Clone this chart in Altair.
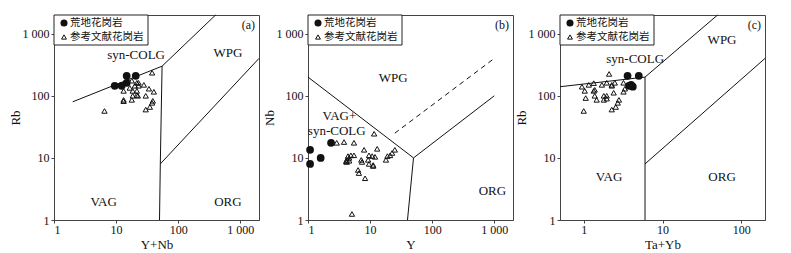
import altair as alt
import pandas as pd

SERIF = "Liberation Serif, Noto Sans CJK SC"
LEG_A = "荒地花岗岩"
LEG_B = "参考文献花岗岩"

# ---------------- Panel (a): Rb vs Y+Nb ----------------
a_circ_x = [9.5, 12.3, 14.8, 20.7, 14.8]
a_circ_y = [145, 145, 210, 210, 162]
a_tri_x = [38, 6.5, 13.2, 13.2, 13.2, 17.9, 18.5, 21.6, 23, 23, 17.9, 16.6, 18.5, 21.6, 22.4,
           28, 33.8, 40.6, 30, 30, 35, 38, 39, 21.6, 20]
a_tri_y = [235, 57, 120, 86, 82, 86, 100, 103, 145, 162, 175, 134, 120, 120, 100,
           150, 130, 116, 100, 60, 66, 77, 83, 162, 145]
a_seg_id = [1, 1, 1, 2, 2, 2, 3, 3]
a_seg_x = [2, 55, 400, 55, 51.5, 50, 51.5, 2000]
a_seg_y = [80, 300, 2000, 300, 8, 1, 8, 400]
a_lab_t = ["syn-COLG", "WPG", "VAG", "ORG"]
a_lab_x = [21, 630, 6.3, 630]
a_lab_y = [460, 490, 1.95, 1.95]

# ---------------- Panel (b): Nb vs Y ----------------
b_circ_x = [1.08, 1.08, 1.6, 2.35]
b_circ_y = [13.5, 8, 10, 17.5]
b_tri_x = [2.9, 3.8, 5.5, 11.6, 13, 8, 25, 22.6, 21, 19, 18, 9.6, 10.8, 12, 9.3, 11.2, 11.2,
           9.6, 7.2, 7.4, 6.4, 6.6, 8.3, 5.1, 4.4, 4.6, 4.2, 4.2, 4.9, 5.5, 4.6, 4.1]
b_tri_y = [17.5, 18, 17.5, 24.5, 14, 13.5, 13.5, 12, 11, 10.7, 9.3, 11, 10.7, 10.4, 9.3, 7.7, 7.4,
           8, 9.3, 8.6, 6.4, 5.7, 4.7, 1.25, 10.7, 10, 9.3, 8.6, 11, 11, 9, 8.8]
b_seg_id = [1, 1, 1, 2, 2]
b_seg_x = [1, 50, 1000, 50, 40]
b_seg_y = [200, 10, 100, 10, 1]
b_dash_x = [25, 1000]
b_dash_y = [25, 400]
b_lab_t = ["WPG", "VAG+", "syn-COLG", "ORG"]
b_lab_x = [23.5, 3.2, 2.9, 930]
b_lab_y = [195, 47, 27, 2.9]

# ---------------- Panel (c): Rb vs Ta+Yb ----------------
c_circ_x = [3.6, 5.0, 3.75, 4.2, 4.0]
c_circ_y = [210, 210, 145, 140, 150]
c_tri_x = [2.1, 1.0, 0.95, 1.16, 1.34, 1.38, 1.03, 1.06, 1.46, 1.7, 1.96, 2.27, 2.48, 2.4, 2.27,
           1.8, 1.96, 1.96, 1.8, 2.27, 2.55, 2.7, 2.8, 3.2, 3.33, 3.2, 1.38, 1.34]
c_tri_y = [225, 57, 140, 150, 160, 125, 120, 92, 86, 150, 162, 150, 162, 112, 145,
           100, 100, 90, 86, 60, 66, 77, 86, 162, 130, 116, 100, 120]
c_seg_id = [1, 1, 1, 2, 2, 3, 3]
c_seg_x = [0.5, 6, 50, 6, 6, 6, 200]
c_seg_y = [140, 200, 2000, 200, 1, 8, 400]
c_lab_t = ["syn-COLG", "WPG", "VAG", "ORG"]
c_lab_x = [4.5, 57, 2.1, 57]
c_lab_y = [390, 800, 4.9, 4.9]

W, H = 205, 205


def panel(tag, xdom, xvals, xtitle, ytitle, cx, cy, tx, ty, sid, sx, sy, lt, lx, ly,
          dx=None, dy=None):
    xs = alt.Scale(type="log", domain=xdom, nice=False)
    ys = alt.Scale(type="log", domain=[1, 2000], nice=False)
    xax = alt.Axis(values=xvals, title=xtitle, labelPadding=1, titlePadding=3,
                   labelExpr="datum.value == 1000 ? '1 000' : datum.label")
    yax = alt.Axis(values=[1, 10, 100, 1000], title=ytitle, labelPadding=2, titlePadding=0,
                   labelExpr="datum.value == 1000 ? '1 000' : datum.label")

    seg = pd.DataFrame({"id": sid, "x": sx, "y": sy, "o": list(range(len(sx)))})
    lines = alt.Chart(seg).mark_line(color="#111", strokeWidth=1).encode(
        x=alt.X("x:Q", scale=xs, axis=xax),
        y=alt.Y("y:Q", scale=ys, axis=yax),
        detail="id:N", order="o:Q")
    layers = [lines]
    if dx is not None:
        dd = pd.DataFrame({"x": dx, "y": dy})
        layers.append(alt.Chart(dd).mark_line(color="#111", strokeWidth=1,
                                              strokeDash=[5, 4]).encode(
            x=alt.X("x:Q", scale=xs), y=alt.Y("y:Q", scale=ys)))
    tri = pd.DataFrame({"x": tx, "y": ty})
    layers.append(alt.Chart(tri).mark_point(shape="triangle-up", filled=False, color="#111",
                                            size=28, strokeWidth=1, opacity=1).encode(
        x=alt.X("x:Q", scale=xs), y=alt.Y("y:Q", scale=ys)))
    circ = pd.DataFrame({"x": cx, "y": cy})
    layers.append(alt.Chart(circ).mark_circle(color="#111", size=60, opacity=1).encode(
        x=alt.X("x:Q", scale=xs), y=alt.Y("y:Q", scale=ys)))
    lab = pd.DataFrame({"t": lt, "x": lx, "y": ly})
    layers.append(alt.Chart(lab).mark_text(font=SERIF, fontSize=13, color="#111").encode(
        x=alt.X("x:Q", scale=xs), y=alt.Y("y:Q", scale=ys), text="t:N"))

    one = pd.DataFrame({"k": [0]})
    layers.append(alt.Chart(one).mark_text(font=SERIF, fontSize=12, color="#111",
                                           align="right", text=tag).encode(
        x=alt.value(W - 4), y=alt.value(10)))
    layers.append(alt.Chart(one).mark_rect(fill="white", stroke="#222", strokeWidth=1).encode(
        x=alt.value(0), x2=alt.value(94), y=alt.value(0), y2=alt.value(30)))
    layers.append(alt.Chart(one).mark_circle(color="#111", size=50, opacity=1).encode(
        x=alt.value(10), y=alt.value(8)))
    layers.append(alt.Chart(one).mark_point(shape="triangle-up", filled=False, color="#111",
                                            size=24, strokeWidth=1, opacity=1).encode(
        x=alt.value(10), y=alt.value(22)))
    layers.append(alt.Chart(one).mark_text(font=SERIF, fontSize=10.5, color="#111",
                                           align="left", baseline="middle", text=LEG_A).encode(
        x=alt.value(16), y=alt.value(8)))
    layers.append(alt.Chart(one).mark_text(font=SERIF, fontSize=10.5, color="#111",
                                           align="left", baseline="middle", text=LEG_B).encode(
        x=alt.value(16), y=alt.value(22)))
    return alt.layer(*layers).properties(width=W, height=H)


pa = panel("(a)", [1, 2000], [1, 10, 100, 1000], "Y+Nb", "Rb",
           a_circ_x, a_circ_y, a_tri_x, a_tri_y, a_seg_id, a_seg_x, a_seg_y,
           a_lab_t, a_lab_x, a_lab_y)
pb = panel("(b)", [1, 2000], [1, 10, 100, 1000], "Y", "Nb",
           b_circ_x, b_circ_y, b_tri_x, b_tri_y, b_seg_id, b_seg_x, b_seg_y,
           b_lab_t, b_lab_x, b_lab_y, b_dash_x, b_dash_y)
pc = panel("(c)", [0.5, 200], [1, 10, 100], "Ta+Yb", "Rb",
           c_circ_x, c_circ_y, c_tri_x, c_tri_y, c_seg_id, c_seg_x, c_seg_y,
           c_lab_t, c_lab_x, c_lab_y)

chart = alt.hconcat(pa, pb, pc, spacing=0).properties(
    padding={"left": 0, "top": 4, "right": 4, "bottom": 0}
).configure_view(stroke="#444", strokeWidth=1).configure_axis(
    grid=False, domainColor="#444", tickColor="#444", tickSize=3,
    labelFont=SERIF, labelFontSize=12, labelColor="#111",
    titleFont=SERIF, titleFontSize=13, titleFontWeight="normal", titleColor="#111"
)

chart.save("out.html", embed_options={"renderer": "svg", "actions": False})
